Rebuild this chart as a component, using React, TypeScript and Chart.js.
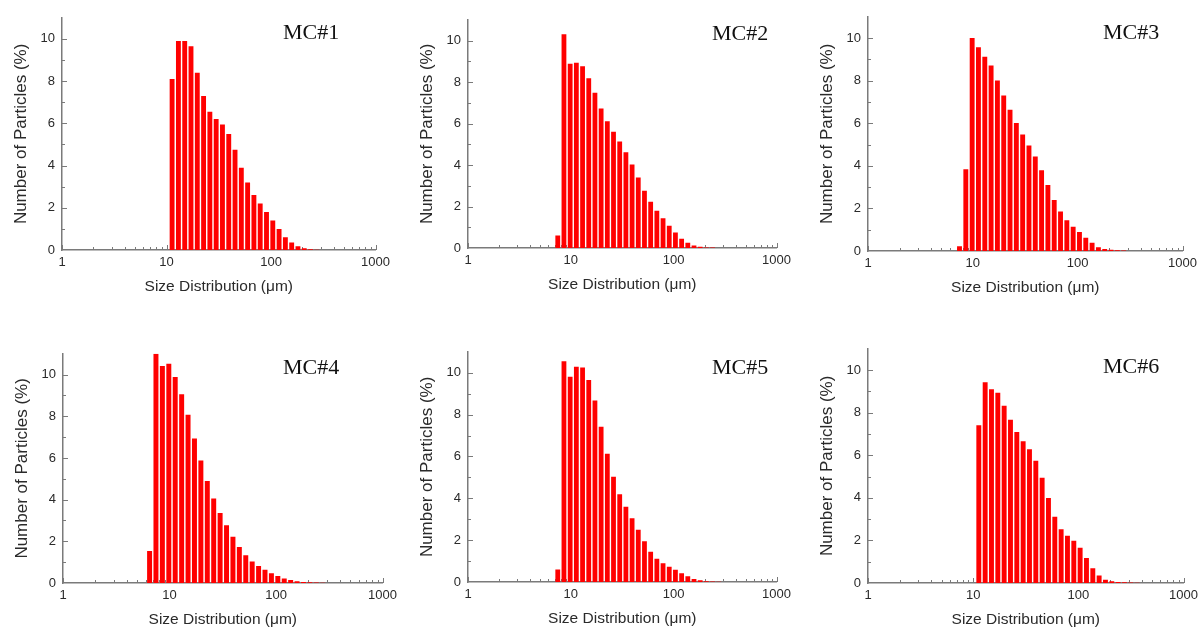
import React, { useEffect, useRef } from "react";
import { Chart, registerables } from "chart.js";

Chart.register(...registerables);

// Bin centres (µm), geometric bins shared by all six samples
const BIN_SIZES = [
  6.5, 7.46, 8.57, 9.85, 11.31, 13.0, 14.93, 17.15, 19.7, 22.63, 25.99, 29.86, 34.3, 39.4, 45.25,
  51.98, 59.71, 68.59, 78.79, 90.51, 103.97, 119.43, 137.19, 157.59, 181.02, 207.94, 238.86,
  274.37, 315.17, 362.04,
];

// Number of particles (%) per bin, aligned to BIN_SIZES (null = no bar)
const MC1 = [
  null, null, null, null, 8.1, 9.9, 9.9, 9.65, 8.4, 7.3, 6.55, 6.2, 5.95, 5.5, 4.75, 3.9, 3.2, 2.6,
  2.2, 1.8, 1.4, 1.0, 0.6, 0.35, 0.18, 0.08, 0.03, 0.01, null, null,
];
const MC2 = [
  null, 0.6, 10.3, 8.88, 8.93, 8.76, 8.18, 7.48, 6.72, 6.11, 5.6, 5.13, 4.62, 4.03, 3.4, 2.76, 2.23,
  1.8, 1.43, 1.07, 0.75, 0.45, 0.25, 0.12, 0.06, 0.03, 0.02, null, null, null,
];
const MC3 = [
  null, 0.22, 3.84, 10.0, 9.57, 9.12, 8.71, 8.01, 7.3, 6.63, 6.01, 5.47, 4.96, 4.44, 3.79, 3.1, 2.39,
  1.85, 1.45, 1.14, 0.89, 0.62, 0.39, 0.18, 0.09, 0.06, 0.03, 0.02, null, null,
];
const MC4 = [
  1.53, 11.0, 10.42, 10.52, 9.89, 9.06, 8.08, 6.94, 5.88, 4.9, 4.06, 3.36, 2.77, 2.22, 1.73, 1.33,
  1.03, 0.81, 0.63, 0.47, 0.33, 0.22, 0.14, 0.08, 0.05, 0.03, 0.02, 0.01, null, null,
];
const MC5 = [
  null, 0.6, 10.55, 9.81, 10.28, 10.25, 9.65, 8.67, 7.42, 6.13, 5.03, 4.19, 3.59, 3.05, 2.5, 1.95,
  1.45, 1.11, 0.89, 0.73, 0.58, 0.42, 0.27, 0.14, 0.08, 0.04, 0.02, 0.01, null, null,
];
const MC6 = [
  null, null, null, null, 7.41, 9.43, 9.1, 8.94, 8.33, 7.67, 7.09, 6.66, 6.28, 5.74, 4.94, 3.99,
  3.11, 2.53, 2.22, 1.99, 1.66, 1.18, 0.69, 0.35, 0.15, 0.08, 0.05, 0.03, 0.02, 0.01,
];

const PANEL_NAMES = ["MC#1", "MC#2", "MC#3", "MC#4", "MC#5", "MC#6"];
const X_TICKS = [1, 10, 100, 1000];
const Y_TICKS = [0, 2, 4, 6, 8, 10];
const X_TITLE = "Size Distribution (\u03bcm)";
const Y_TITLE = "Number of Particles (%)";

// Layout (page pixels)
const LAYOUT = [
  { area: { l: 62, r: 379, t: 13, b: 250 }, label: { x: 283, y: 39 } },
  { area: { l: 468, r: 780, t: 15, b: 248 }, label: { x: 712, y: 40 } },
  { area: { l: 868, r: 1186, t: 12, b: 251 }, label: { x: 1103, y: 39 } },
  { area: { l: 63, r: 386, t: 349, b: 583 }, label: { x: 283, y: 374 } },
  { area: { l: 468, r: 780, t: 347, b: 582 }, label: { x: 712, y: 374 } },
  { area: { l: 868, r: 1187, t: 344, b: 583 }, label: { x: 1103, y: 373 } },
];
const SERIES = [MC1, MC2, MC3, MC4, MC5, MC6];

const Y_AXIS_W = 62;
const X_AXIS_H = 50;
const PAD_T = 10;
const PAD_R = 16;
const AXIS_COLOR = "#7a7a7a";
const TEXT_COLOR = "#2a2a2a";
const SANS = "'Liberation Sans', Arial, sans-serif";

function Panel({ idx }: { idx: number }) {
  const ref = useRef<HTMLCanvasElement | null>(null);
  const { area, label } = LAYOUT[idx];
  const left = area.l - Y_AXIS_W;
  const top = area.t - PAD_T;
  const width = area.r + PAD_R - left;
  const height = area.b + X_AXIS_H - top;

  useEffect(() => {
    const values = SERIES[idx];
    const name = PANEL_NAMES[idx];
    const decor = {
      id: "decor",
      beforeDatasetsDraw(chart: any) {
        const { ctx, chartArea } = chart;
        const x = chart.scales.x;
        const y = chart.scales.y;
        ctx.save();
        ctx.strokeStyle = AXIS_COLOR;
        ctx.lineWidth = 1;
        ctx.beginPath();
        for (const d of [1, 10, 100]) {
          for (let m = 2; m <= 9; m++) {
            const px = Math.round(x.getPixelForValue(d * m)) + 0.5;
            ctx.moveTo(px, chartArea.bottom);
            ctx.lineTo(px, chartArea.bottom - 3);
          }
        }
        for (const v of X_TICKS) {
          const px = Math.round(x.getPixelForValue(v)) + 0.5;
          ctx.moveTo(px, chartArea.bottom);
          ctx.lineTo(px, chartArea.bottom - 5);
        }
        for (let v = 1; v <= 10; v++) {
          const py = Math.round(y.getPixelForValue(v)) + 0.5;
          const len = v % 2 === 0 ? 5 : 3;
          ctx.moveTo(chartArea.left, py);
          ctx.lineTo(chartArea.left + len, py);
        }
        ctx.stroke();
        ctx.restore();
      },
      afterDraw(chart: any) {
        const { ctx } = chart;
        ctx.save();
        ctx.font = "22px 'Liberation Serif', 'Times New Roman', serif";
        ctx.fillStyle = "#111";
        ctx.textBaseline = "alphabetic";
        ctx.textAlign = "left";
        ctx.fillText(name, label.x - left, label.y - top);
        ctx.restore();
      },
    };

    const chart = new Chart(ref.current as HTMLCanvasElement, {
      type: "bar",
      data: {
        datasets: [
          {
            data: BIN_SIZES.map((s, i) => ({ x: s, y: values[i] })) as any,
            backgroundColor: "#ff0000",
            borderWidth: 0,
            categoryPercentage: 1,
            barPercentage: 0.78,
          },
        ],
      },
      options: {
        responsive: false,
        animation: false,
        devicePixelRatio: 1,
        layout: { padding: { top: PAD_T, right: PAD_R, left: 0, bottom: 0 } },
        plugins: { legend: { display: false }, tooltip: { enabled: false } },
        scales: {
          x: {
            type: "logarithmic",
            min: 1,
            max: 1000,
            offset: false,
            afterBuildTicks: (s: any) => {
              s.ticks = X_TICKS.map((v) => ({ value: v }));
            },
            afterFit: (s: any) => {
              s.height = X_AXIS_H;
            },
            grid: { display: false, drawTicks: false, offset: false },
            border: { display: true, color: AXIS_COLOR, width: 1.5 },
            ticks: {
              autoSkip: false,
              maxRotation: 0,
              padding: 5,
              color: TEXT_COLOR,
              font: { family: SANS, size: 13 },
              callback: (v: any) => String(v),
            },
            title: {
              display: true,
              text: X_TITLE,
              color: TEXT_COLOR,
              font: { family: SANS, size: 15.5 },
              padding: { top: 0, bottom: 4 },
            },
          },
          y: {
            type: "linear",
            min: 0,
            max: 11,
            afterBuildTicks: (s: any) => {
              s.ticks = Y_TICKS.map((v) => ({ value: v }));
            },
            afterFit: (s: any) => {
              s.width = Y_AXIS_W;
            },
            grid: { display: false, drawTicks: false },
            border: { display: true, color: AXIS_COLOR, width: 1.5 },
            ticks: {
              padding: 7,
              color: TEXT_COLOR,
              font: { family: SANS, size: 13 },
              callback: (v: any) => String(v),
            },
            title: {
              display: true,
              text: Y_TITLE,
              color: TEXT_COLOR,
              font: { family: SANS, size: 17 },
              padding: { top: 11, bottom: 0 },
            },
          },
        },
      } as any,
      plugins: [decor],
    });
    return () => chart.destroy();
  }, [idx]);

  return (
    <canvas
      ref={ref}
      width={width}
      height={height}
      style={{ position: "absolute", left, top, width, height }}
    />
  );
}

export default function App() {
  return (
    <div
      style={{
        position: "absolute",
        left: 0,
        top: 0,
        width: 1203,
        height: 627,
        overflow: "hidden",
        background: "#fff",
      }}
    >
      {PANEL_NAMES.map((n, i) => (
        <Panel key={n} idx={i} />
      ))}
    </div>
  );
}
